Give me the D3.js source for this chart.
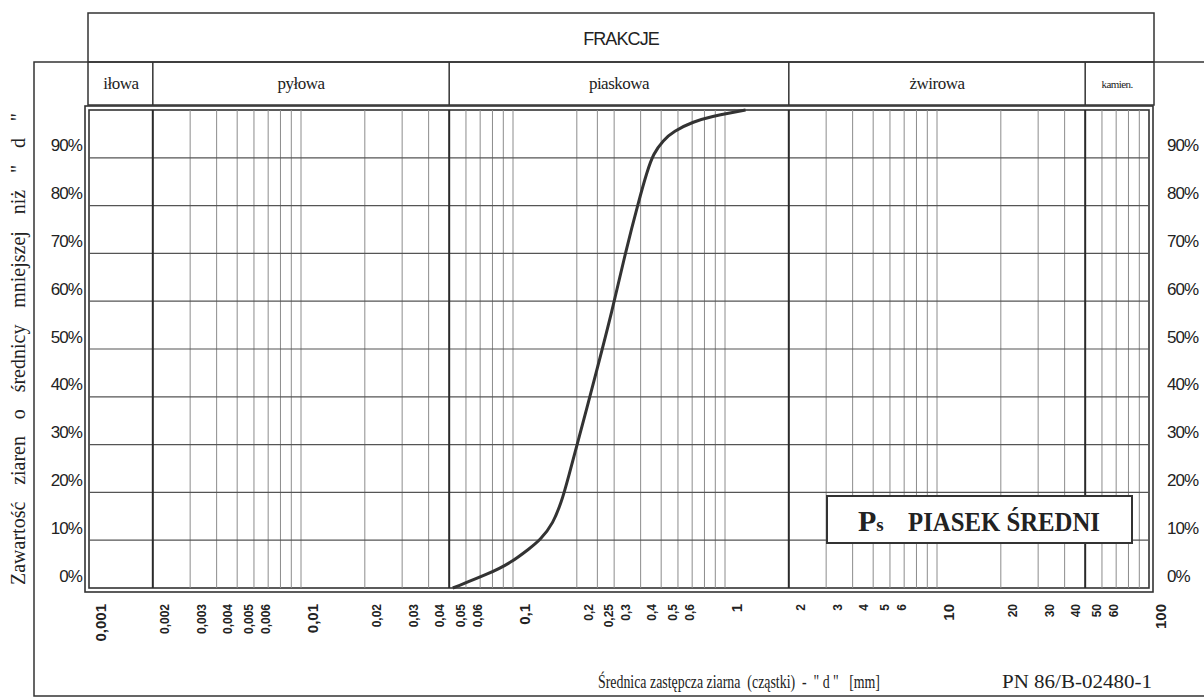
<!DOCTYPE html>
<html>
<head>
<meta charset="utf-8">
<script src="https://cdn.jsdelivr.net/npm/d3@7"></script>
<style>
	body { margin: 0; background: #fff; }
	svg { display: block; }
</style>
</head>
<body>
<svg id="chart" width="1204" height="697"></svg>
<script>
// grain size curve (mm, % passing)
const diameters = [0.052, 0.078, 0.097, 0.12, 0.134, 0.155, 0.17, 0.176, 0.235, 0.297, 0.338, 0.397, 0.427, 0.459, 0.512, 0.57, 0.709, 0.881, 1.056, 1.25];
const passing = [0, 3.1, 5.2, 8.3, 10.0, 13.5, 18.4, 20.5, 41.4, 58.8, 70.0, 81.9, 86.8, 90.9, 93.7, 95.5, 97.6, 98.7, 99.4, 100];

const percentTicks = [0, 10, 20, 30, 40, 50, 60, 70, 80, 90];
const sizeLabels = [0.001, 0.002, 0.003, 0.004, 0.005, 0.006, 0.01, 0.02, 0.03, 0.04, 0.05, 0.06,
	0.1, 0.2, 0.25, 0.3, 0.4, 0.5, 0.6, 1, 2, 3, 4, 5, 6, 10, 20, 30, 40, 50, 60, 100];
const majorSizes = [0.001, 0.01, 0.1, 1, 10, 100];
const extraGrid = [0.25];

const fractionBounds = [0.001, 0.002, 0.05, 2, 50, 100];
const fractionNames = ['iłowa', 'pyłowa', 'piaskowa', 'żwirowa', 'kamien.'];

(function() {
	'use strict';

	const svg = d3.select('#chart');
	const sans = 'Liberation Sans, Arial, sans-serif';
	const serif = 'Liberation Serif, Times New Roman, serif';
	const ink = '#222';

	const left = 89, right = 1149, top = 110, bottom = 588;

	const x = d3.scaleLog().domain([0.001, 100]).range([left, right]);
	const y = d3.scaleLinear().domain([0, 100]).range([bottom, top]);

	// outer form lines
	const form = svg.append('g').attr('fill', 'none').attr('stroke', '#333').attr('stroke-width', 1.5);
	form.append('path').attr('d', 'M1204,62 H34 V696 H1204');

	// header: FRAKCJE + fraction names
	const hl = left - 1, hr = right + 5;
	form.append('rect').attr('x', hl).attr('y', 13).attr('width', hr - hl).attr('height', 92);
	form.append('line').attr('x1', hl).attr('x2', hr).attr('y1', 62).attr('y2', 62);

	svg.append('text')
		.attr('x', (hl + hr) / 2).attr('y', 45)
		.attr('text-anchor', 'middle')
		.attr('font-family', sans).attr('font-size', 18)
		.attr('letter-spacing', -0.9)
		.attr('fill', ink)
		.text('FRAKCJE');

	const cells = fractionNames.map(function(name, i) {
		return { name: name, a: fractionBounds[i], b: fractionBounds[i + 1] };
	});

	form.selectAll('.cellsep')
		.data(fractionBounds.slice(1, -1))
		.enter().append('line')
		.attr('x1', function(d) { return x(d); })
		.attr('x2', function(d) { return x(d); })
		.attr('y1', 62).attr('y2', 105);

	svg.selectAll('.cellname')
		.data(cells)
		.enter().append('text')
		.attr('x', function(d) { return (Math.max(x(d.a), hl) + Math.min(x(d.b), hr)) / 2; })
		.attr('y', function(d) { return d.name === 'kamien.' ? 88 : 89; })
		.attr('text-anchor', 'middle')
		.attr('font-family', serif)
		.attr('font-size', function(d) { return d.name === 'kamien.' ? 11 : 17; })
		.attr('letter-spacing', function(d) { return d.name === 'kamien.' ? -0.6 : -0.5; })
		.attr('fill', ink)
		.text(function(d) { return d.name; });

	// plot frame (double line)
	const frame = svg.append('g').attr('fill', 'none').attr('stroke', '#333').attr('stroke-width', 1.6);
	frame.append('rect').attr('x', left - 4).attr('y', top - 4)
		.attr('width', right - left + 8).attr('height', bottom - top + 8);
	frame.append('rect').attr('x', left).attr('y', top)
		.attr('width', right - left).attr('height', bottom - top);

	// grid
	const grid = svg.append('g');
	const vgrid = x.ticks().concat(extraGrid).filter(function(v) {
		return !fractionBounds.some(function(b) { return Math.abs(Math.log10(b / v)) < 1e-6; });
	});

	grid.selectAll('.vg')
		.data(vgrid)
		.enter().append('line')
		.attr('x1', function(d) { return x(d); })
		.attr('x2', function(d) { return x(d); })
		.attr('y1', top).attr('y2', bottom)
		.attr('stroke', '#8c8c8c').attr('stroke-width', 1);

	grid.selectAll('.hg')
		.data(percentTicks.filter(function(v) { return v > 0; }))
		.enter().append('line')
		.attr('x1', left).attr('x2', right)
		.attr('y1', function(d) { return y(d); })
		.attr('y2', function(d) { return y(d); })
		.attr('stroke', '#555').attr('stroke-width', 1.2);

	grid.selectAll('.fb')
		.data(fractionBounds.slice(1, -1))
		.enter().append('line')
		.attr('x1', function(d) { return x(d); })
		.attr('x2', function(d) { return x(d); })
		.attr('y1', top).attr('y2', bottom)
		.attr('stroke', '#2a2a2a').attr('stroke-width', 2);

	// curve
	const pts = diameters.map(function(d, i) { return [d, passing[i]]; });
	const line = d3.line()
		.x(function(d) { return x(d[0]); })
		.y(function(d) { return y(d[1]); })
		.curve(d3.curveBasis);

	svg.append('path')
		.datum(pts)
		.attr('d', line)
		.attr('fill', 'none')
		.attr('stroke', '#333')
		.attr('stroke-width', 3)
		.attr('stroke-linejoin', 'round');

	// soil name box
	const box = svg.append('g');
	box.append('rect')
		.attr('x', 827).attr('y', 496).attr('width', 305).attr('height', 47)
		.attr('fill', '#fff').attr('stroke', '#333').attr('stroke-width', 2);
	const ps = box.append('text')
		.attr('x', 858).attr('y', 531)
		.attr('font-family', serif).attr('font-weight', 'bold').attr('fill', ink);
	ps.append('tspan').attr('font-size', 30).text('P');
	ps.append('tspan').attr('font-size', 19).text('s');
	box.append('text')
		.attr('x', 908).attr('y', 531)
		.attr('font-family', serif).attr('font-weight', 'bold').attr('font-size', 28)
		.attr('textLength', 192).attr('lengthAdjust', 'spacingAndGlyphs')
		.attr('fill', ink)
		.text('PIASEK ŚREDNI');

	// y axes, labels sit above their grid line
	function pct(d) { return d + '%'; }
	function styleY(g, anchor) {
		g.select('.domain').remove();
		g.selectAll('.tick line').remove();
		g.selectAll('text')
			.attr('dy', null)
			.attr('y', -7)
			.attr('text-anchor', anchor)
			.attr('font-family', sans)
			.attr('font-size', 17)
			.attr('letter-spacing', -0.9)
			.attr('fill', ink);
	}
	svg.append('g')
		.attr('transform', 'translate(82,0)')
		.call(d3.axisLeft(y).tickValues(percentTicks).tickFormat(pct).tickSize(0).tickPadding(0))
		.call(styleY, 'end');
	svg.append('g')
		.attr('transform', 'translate(1167,0)')
		.call(d3.axisRight(y).tickValues(percentTicks).tickFormat(pct).tickSize(0).tickPadding(0))
		.call(styleY, 'start');

	// x axis labels, rotated
	const isMajor = function(v) { return majorSizes.indexOf(v) >= 0; };
	const xAxis = svg.append('g')
		.attr('transform', 'translate(0,604)')
		.call(d3.axisBottom(x)
			.tickValues(sizeLabels)
			.tickFormat(function(d) { return String(d).replace('.', ','); })
			.tickSize(0));
	xAxis.select('.domain').remove();
	xAxis.selectAll('.tick line').remove();
	xAxis.selectAll('text')
		.attr('transform', 'rotate(-90)')
		.attr('x', 0).attr('y', 11)
		.attr('dy', '0.35em')
		.attr('text-anchor', 'end')
		.attr('font-family', sans)
		.attr('font-weight', 'bold')
		.attr('font-size', function(d) { return isMajor(d) ? 15 : 12; })
		.attr('fill', ink);

	// axis titles
	const yTitle = svg.append('text')
		.attr('transform', 'translate(25,' + ((top + bottom) / 2) + ') rotate(-90)')
		.attr('text-anchor', 'middle')
		.attr('font-family', serif).attr('font-size', 20)
		.attr('fill', ink)
		.text('Zawartość ziaren o średnicy mniejszej niż " d "');
	const gaps = 8;
	const spare = 472 - yTitle.node().getComputedTextLength();
	yTitle.style('word-spacing', Math.max(0, spare / gaps) + 'px');

	svg.append('text')
		.attr('x', 598).attr('y', 688)
		.attr('font-family', serif).attr('font-size', 18)
		.style('white-space', 'pre')
		.attr('textLength', 282).attr('lengthAdjust', 'spacingAndGlyphs')
		.attr('fill', ink)
		.text('Średnica zastępcza ziarna  (cząstki)  -  " d "   [mm]');

	svg.append('text')
		.attr('x', 1002).attr('y', 688)
		.attr('font-family', serif).attr('font-size', 18)
		.attr('textLength', 150).attr('lengthAdjust', 'spacingAndGlyphs')
		.attr('fill', ink)
		.text('PN 86/B-02480-1');
})();
</script>
</body>
</html>
